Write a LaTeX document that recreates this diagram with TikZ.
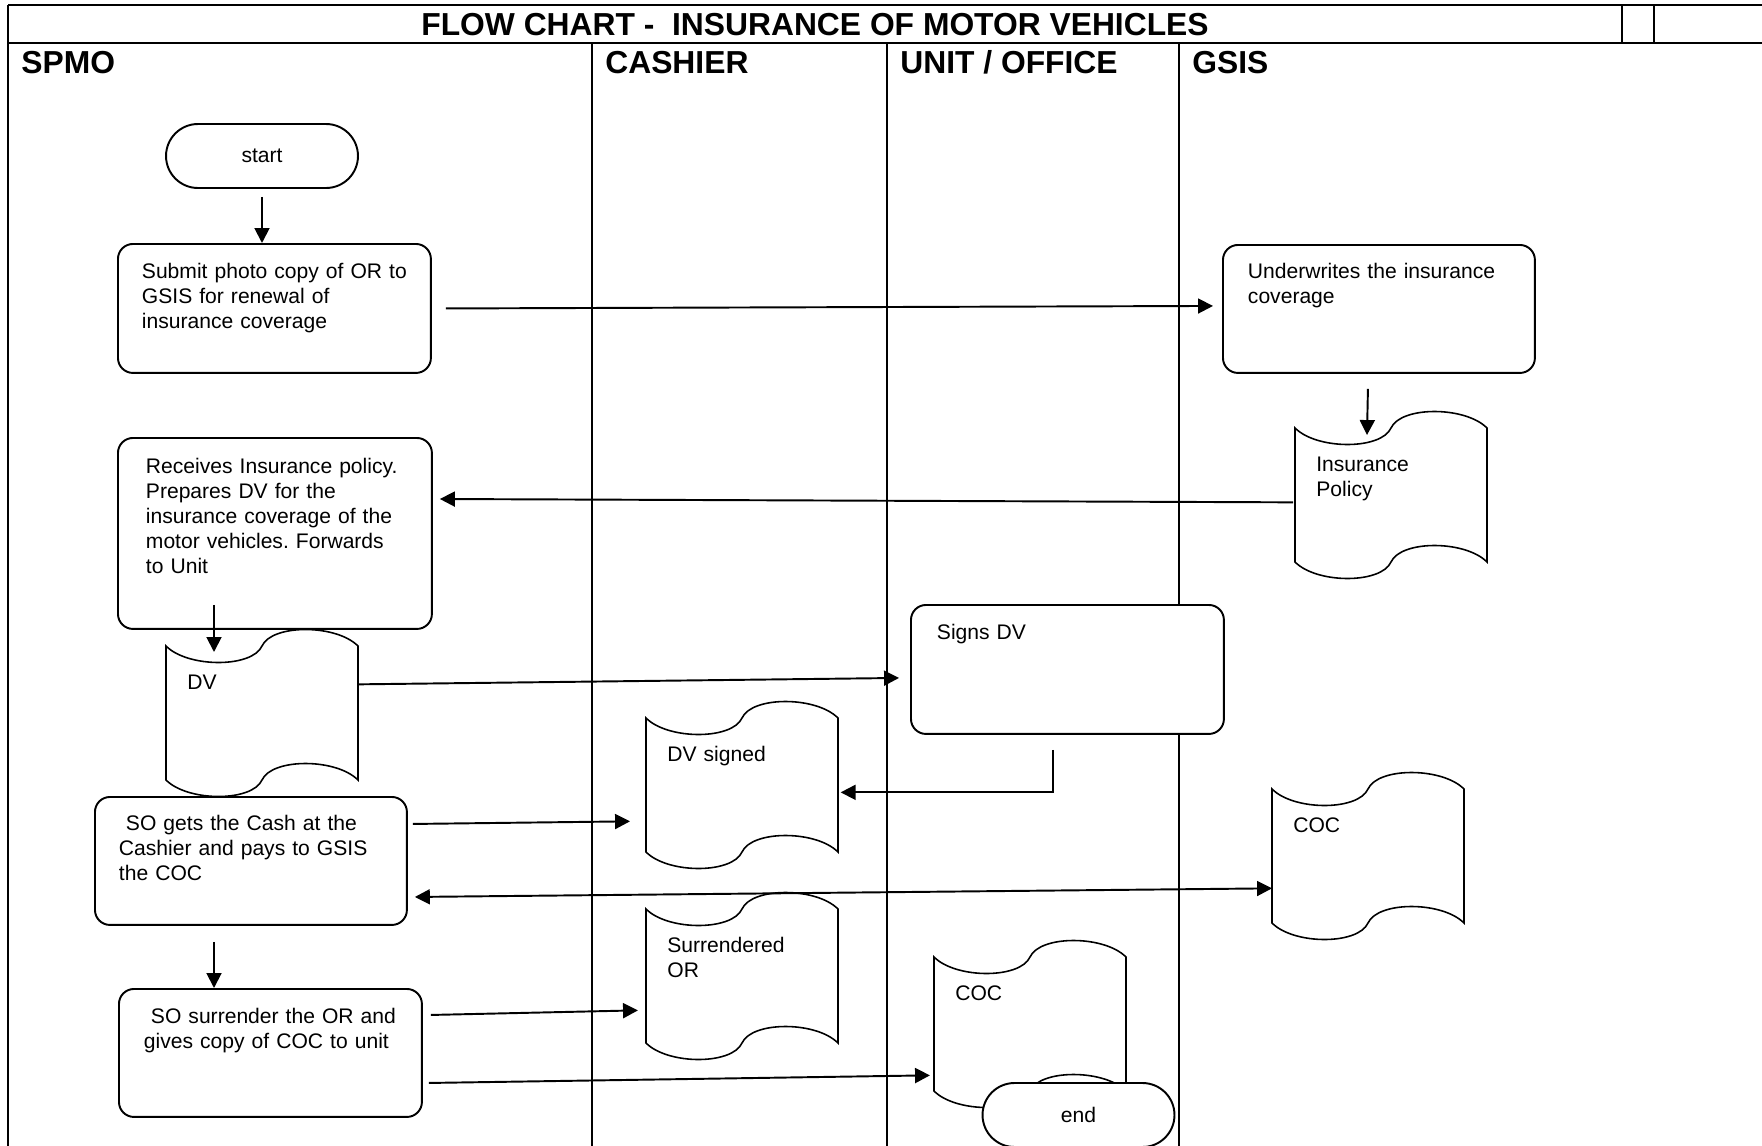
\documentclass[tikz,border=0pt]{standalone}
\usepackage{fontspec}
\setmainfont{Liberation Sans}
\frenchspacing
\usepackage{tikz}
\usetikzlibrary{arrows.meta, calc, shapes.misc}
\tikzset{
  rule/.style={line width=1.6pt},
  lane/.style={line width=1.1pt},
  heading/.style={anchor=base west, inner sep=0pt, font=\fontsize{18.1}{21}\selectfont\bfseries},
  procbox/.style={draw, fill=white, line width=1.1pt, rounded corners=0.3cm, anchor=north west,
    align=left, inner ysep=0pt, font=\fontsize{12}{14.2}\selectfont},
  termbox/.style={draw, fill=white, line width=1.1pt, rounded rectangle, minimum width=3.84cm,
    minimum height=1.28cm, inner sep=0pt, font=\fontsize{12}{14.2}\selectfont},
  docline/.style={draw, fill=white, line width=0.9pt},
  doctext/.style={anchor=north west, align=left, inner xsep=0.42cm, inner ysep=0pt,
    text width=3.0cm, text height=0.86cm, text depth=1.82cm, font=\fontsize{12}{14.2}\selectfont},
  flow/.style={-{Triangle[length=8.5pt, width=8.5pt]}, line width=1.1pt},
  twoway/.style={{Triangle[length=8.5pt, width=8.5pt]}-{Triangle[length=8.5pt, width=8.5pt]}, line width=1.1pt},
}

\begin{document}
\begin{tikzpicture}[x=0.02cm, y=0.02cm]
\useasboundingbox (0,0) rectangle (1762,-1146);
% title row
\draw[rule] (8,-5) -- (1762,-5);
\draw[rule] (8,-43) -- (1762,-43);
\draw[rule] (8,-5) -- (8,-1146);
\foreach \x in {1622,1654}
  \draw[rule] (\x,-5) -- (\x,-43);
\node[heading, anchor=base] (title) at (815,-35.5) {FLOW CHART -\ \ INSURANCE OF MOTOR VEHICLES};
% swim lanes
\foreach \x in {592,887,1179}
  \draw[lane] (\x,-43) -- (\x,-1146);
\foreach \x/\lbl/\nm in {21/SPMO/spmo, 605/CASHIER/cashier, 900/{UNIT / OFFICE}/unit, 1192/GSIS/gsis}
  \node[heading] (\nm) at (\x,-73.5) {\lbl};

% documents (wavy top and bottom)
\foreach \nm/\x/\y/\txt in {ipol/1295/428/{Insurance\\Policy}, dv/166/646/DV, dvs/646/718/{DV signed},
    coc2/1272/789/COC, sor/646/909/{Surrendered\\OR}, coc1/934/957/COC} {
  \draw[docline] (\x,-\y) .. controls (\x+22,-\y-22) and (\x+86,-\y-22) .. (\x+96,-\y)
    .. controls (\x+106,-\y+22) and (\x+170,-\y+22) .. (\x+192,-\y) -- (\x+192,-\y-134)
    .. controls (\x+170,-\y-112) and (\x+106,-\y-112) .. (\x+96,-\y-134)
    .. controls (\x+86,-\y-156) and (\x+22,-\y-156) .. (\x,-\y-134) -- cycle;
  \node[doctext] (\nm) at (\x,-\y) {\txt};
}

% steps
\node[termbox] (start) at (262,-156) {start};
\node[procbox, inner xsep=0.48cm, text width=5.30cm, text height=0.70cm, text depth=1.88cm] (sub) at (117,-243)
  {Submit photo copy of OR to\\GSIS for renewal of\\insurance coverage};
\node[procbox, inner xsep=0.50cm, text width=5.24cm, text height=0.68cm, text depth=1.88cm] (uw) at (1222,-244)
  {Underwrites the insurance\\coverage};
\node[procbox, inner xsep=0.56cm, text width=5.16cm, text height=0.72cm, text depth=3.10cm] (rec) at (117,-437)
  {Receives Insurance policy.\\Prepares DV for the\\insurance coverage of the\\motor vehicles. Forwards\\to Unit};
\node[procbox, inner xsep=0.52cm, text width=5.22cm, text height=0.70cm, text depth=1.88cm] (signs) at (910,-604)
  {Signs DV};
\node[procbox, inner xsep=0.48cm, text width=5.28cm, text height=0.68cm, text depth=1.88cm] (cash) at (94,-796)
  {\ SO gets the Cash at the\\Cashier and pays to GSIS\\the COC};
\node[procbox, inner xsep=0.50cm, text width=5.06cm, text height=0.70cm, text depth=1.86cm] (surr) at (118,-988)
  {\ SO surrender the OR and\\gives copy of COC to unit};

% connectors
\draw[flow] ($(start.south)+(0,-8)$) -- (start.south |- sub.north);
\draw[flow] ($(sub.east)+(14,0)$) -- ($(uw.west)+(-9,3)$);
\draw[flow] ($(uw.south)+(-11,-15)$) -- ($(ipol.north west)+(72,-7)$);
\draw[flow] ($(ipol.west)+(-2,-7)$) -- ($(rec.north east)+(7,-62)$);
\draw[flow] ($(rec.south west)+(97,25)$) -- ($(dv.north west)+(48,-6)$);
\draw[flow] ($(dv.east)+(0,29)$) -- ($(signs.west)+(-11,-8.5)$);
\draw[flow] ($(signs.south)+(-14,-15)$) |- ($(dvs.east)+(2,-7)$);
\draw[flow] ($(cash.east)+(5,37)$) -- ($(dvs.west)+(-16,-36)$);
\draw[twoway] ($(coc2.west)+(0,-32)$) -- ($(cash.east)+(7,-36)$);
\draw[flow] ($(cash.south west)+(120,-16)$) -- ($(surr.north west)+(96,0)$);
\draw[flow] ($(surr.east)+(8,38)$) -- ($(sor.west)+(-8,-34)$);
\draw[flow] ($(surr.east)+(6,-30)$) -- ($(coc1.west)+(-4,-51)$);

\node[termbox] (finish) at (1078.5,-1115) {end};
\end{tikzpicture}
\end{document}
